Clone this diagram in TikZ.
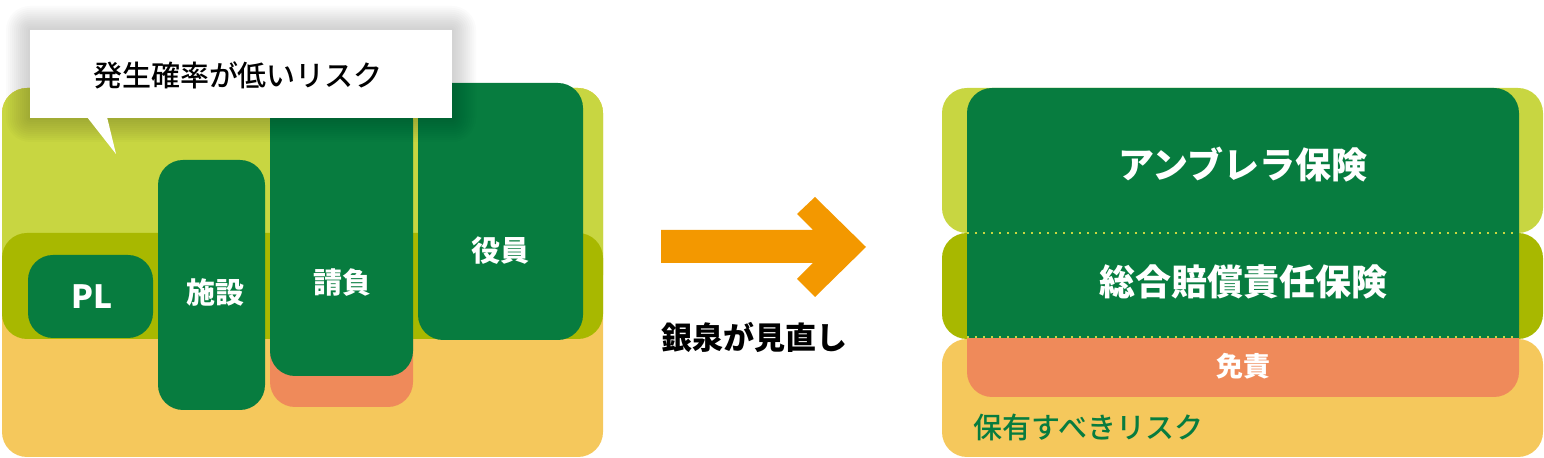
\documentclass[tikz,border=0pt]{standalone}
\usepackage{fontspec}
\setmainfont{Noto Sans CJK JP}
\newfontfamily\mediumfont{Noto Sans CJK JP Medium}
\definecolor{bandlight}{HTML}{C8D641}
\definecolor{bandolive}{HTML}{A8B800}
\definecolor{bandyellow}{HTML}{F5C85C}
\definecolor{boxgreen}{HTML}{077C3F}
\definecolor{boxsalmon}{HTML}{EF8A5A}
\definecolor{arroworange}{HTML}{F39800}
\tikzset{
  boxlabel/.style={text=white, font=\bfseries\fontsize{14.5pt}{14.5pt}\selectfont},
  biglabel/.style={text=white, font=\bfseries\fontsize{18pt}{18pt}\selectfont},
  riskbox/.style={rounded corners=12.5pt},
  dotline/.style={bandlight, line width=1.2pt, dash pattern=on 1.2pt off 2.8pt},
}
\begin{document}
\begin{tikzpicture}[x=0.5pt,y=-0.5pt]
\useasboundingbox (0,0) rectangle (1544,458);

% Left panel
\fill[bandyellow, riskbox] (2,88) rectangle (603,457);
\fill[bandlight, riskbox] (2,88) rectangle (603,300);
\fill[bandolive, riskbox] (2,233) rectangle (603,339);

% Boxes
\fill[boxgreen, riskbox] (28,255) rectangle (153,338);
\fill[boxgreen, riskbox] (158,160) rectangle (265,410);
\fill[boxsalmon, riskbox] (270,300) rectangle (413,407);
\fill[boxgreen, riskbox] (270,95) rectangle (413,376);
\fill[boxgreen, riskbox] (418,83) rectangle (583,340);
\node[boxlabel, font=\bfseries\fontsize{16pt}{16pt}\selectfont] (pl) at (92,297) {PL};
\node[boxlabel] (shisetsu) at (215,292) {施設};
\node[boxlabel] (ukeoi) at (342,283) {請負};
\node[boxlabel] (yakuin) at (500,251) {役員};

% Callout
\foreach \s in {2,4,...,24}
  \fill[black, opacity=0.014, rounded corners=\s*0.5pt] (30-\s,30-\s) rectangle (452+\s,118+\s);
\fill[white] (30,30) rectangle (452,118);
\fill[white] (87,117) -- (116,154) -- (107,117) -- cycle;
\node[font=\mediumfont\fontsize{14.5pt}{14.5pt}\selectfont] (lowrisk) at (238,75) {発生確率が低いリスク};

% Arrow
\fill[arroworange] (661,230) -- (813,230) -- (797,214) -- (815,197) -- (866,247)
  -- (815,297) -- (797,279) -- (813,263) -- (661,263) -- cycle;
\node[font=\bfseries\fontsize{15.5pt}{15.5pt}\selectfont] (review) at (754,337) {銀泉が見直し};

% Right panel
\fill[bandlight, riskbox] (942,88) rectangle (1543,233);
\fill[bandolive, riskbox] (942,233) rectangle (1543,339);
\fill[bandyellow, riskbox] (942,339) rectangle (1543,457);
\fill[boxsalmon, riskbox] (967,300) rectangle (1519,397);
\begin{scope}
  \clip (940,80) rectangle (1544,338);
  \fill[boxgreen, riskbox] (967,88) rectangle (1519,400);
\end{scope}
\draw[dotline] (967,233) -- (1519,233);
\draw[dotline] (967,337) -- (1519,337);
\node[biglabel] (umbrella) at (1243,165) {アンブレラ保険};
\node[biglabel] (liability) at (1243,282) {総合賠償責任保険};
\node[boxlabel, font=\bfseries\fontsize{13.5pt}{13.5pt}\selectfont] (menseki) at (1243,366) {免責};
\node[anchor=west, text=boxgreen, font=\mediumfont\fontsize{14.5pt}{14.5pt}\selectfont] (retain) at (966,427) {保有すべきリスク};
\end{tikzpicture}
\end{document}
